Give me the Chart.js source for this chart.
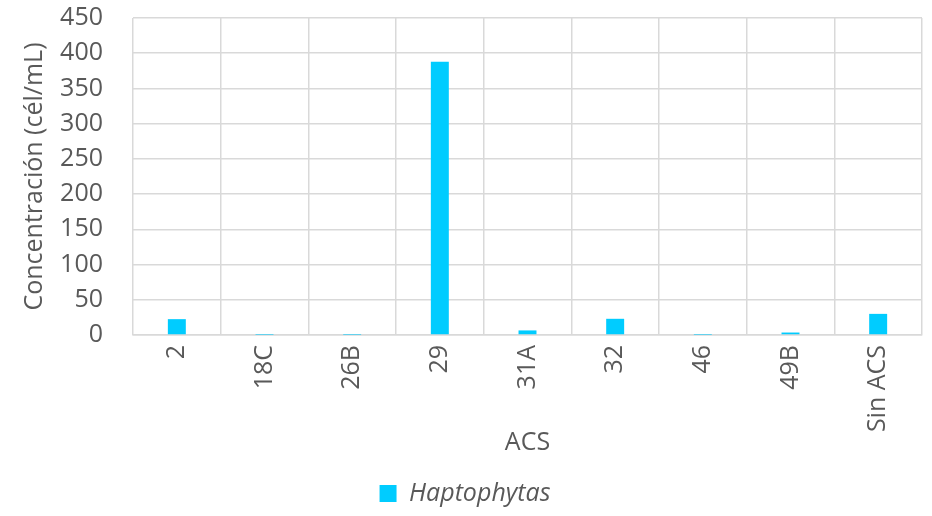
<!DOCTYPE html>
<html><head><meta charset="utf-8">
<script src="https://cdn.jsdelivr.net/npm/chart.js@4/dist/chart.umd.min.js"></script>
<style>html,body{margin:0;padding:0;background:#fff}#wrap{width:932px;height:516px}</style>
</head><body><div id="wrap"><canvas id="c" width="932" height="516"></canvas></div>
<script>
const categories = ["2","18C","26B","29","31A","32","46","49B","Sin ACS"];
const haptophytas = [22.5, 0.3, 0.3, 388, 6.5, 23, 0.3, 3.5, 30];
const yTicks = [0,50,100,150,200,250,300,350,400,450];
const FONT = "'Open Sans', sans-serif";
const FS = 25;
new Chart(document.getElementById('c'), {
  type: 'bar',
  data: { labels: categories, datasets: [{ label: 'Haptophytas', data: haptophytas, backgroundColor: '#00CCFF', borderWidth: 0, barPercentage: 0.41, categoryPercentage: 0.5 }] },
  options: {
    responsive: false, animation: false,
    layout: { padding: { left: 8, right: 10, top: 0, bottom: 0 } },
    plugins: {
      legend: { position: 'bottom', labels: { color: '#595959', font: { family: FONT, size: FS, style: 'italic' }, boxWidth: 17, boxHeight: 17, padding: 6 } },
      tooltip: { enabled: false }
    },
    scales: {
      x: {
        offset: true,
        afterFit: (s) => { s.paddingTop = 0; s.paddingBottom = 0; s.paddingLeft = 0; s.paddingRight = 0; s.height = 140; },
        grid: { display: true, offset: true, color: '#d9d9d9', lineWidth: 1.5, drawTicks: false },
        border: { color: '#d9d9d9', width: 1.5 },
        ticks: { color: '#595959', font: { family: FONT, size: FS }, minRotation: 90, maxRotation: 90, padding: 10, autoSkip: false },
        title: { display: true, text: 'ACS', color: '#595959', font: { family: FONT, size: FS }, padding: { top: 0, bottom: 17 } }
      },
      y: {
        min: 0, max: 450,
        afterBuildTicks: (axis) => { axis.ticks = yTicks.map(v => ({ value: v })); },
        afterFit: (s) => { s.paddingTop = 18; s.paddingBottom = 10; s.width = 125; },
        grid: { color: '#d9d9d9', lineWidth: 1.5, drawTicks: false },
        border: { display: false },
        ticks: { color: '#595959', font: { family: FONT, size: FS }, padding: 30, autoSkip: false },
        title: { display: true, text: 'Concentración (cél/mL)', color: '#595959', font: { family: FONT, size: FS }, padding: { top: 12, bottom: 0 } }
      }
    }
  }
});
</script></body></html>
